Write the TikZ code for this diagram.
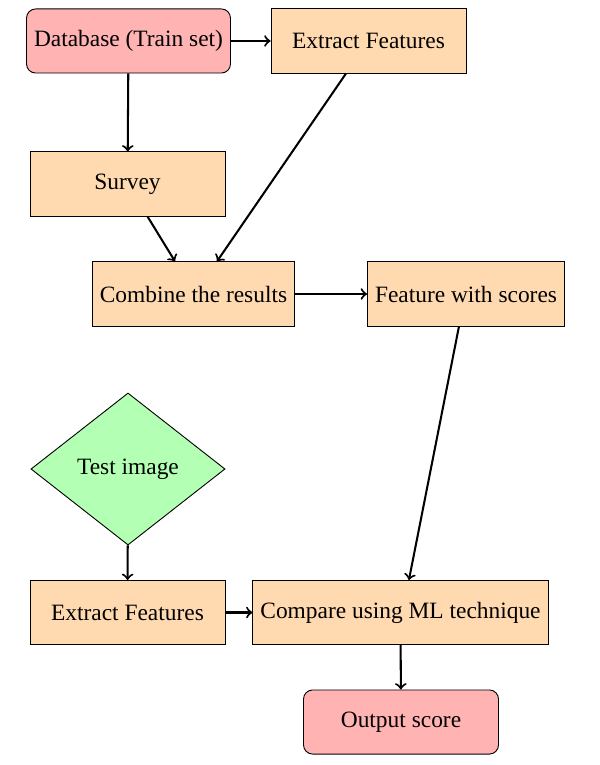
\documentclass[tikz,border=0pt]{standalone}
\usepackage{fontspec}
\setmainfont{Liberation Serif}
\usetikzlibrary{shapes.geometric}
\definecolor{boxred}{RGB}{255,179,179}
\definecolor{boxorange}{RGB}{255,218,176}
\definecolor{boxgreen}{RGB}{179,255,179}
\begin{document}
\begin{tikzpicture}[x=0.44pt,y=-0.44pt,font=\fontsize{10.3}{12}\selectfont,
  procbox/.style={rectangle,draw,fill=boxorange,minimum width=85.8pt,minimum height=28.2pt,inner sep=3.3pt},
  termbox/.style={rectangle,rounded corners=4pt,draw,fill=boxred,minimum width=85.8pt,minimum height=28.2pt,inner sep=3.3pt},
  decbox/.style={diamond,draw,fill=boxgreen,minimum width=85.4pt,minimum height=66.9pt,inner sep=0pt},
  arr/.style={->,line width=0.9pt}]
\useasboundingbox (0,0) rectangle (599,765);
\node[termbox] (db) at (128.5,41) {Database (Train set)};
\node[procbox] (ext1) at (368.5,41) {Extract Features};
\node[procbox] (survey) at (127.5,184) {Survey};
\node[procbox] (comb) at (193.5,294) {Combine the results};
\node[procbox] (fws) at (466,294) {Feature with scores};
\node[decbox] (test) at (128,469) {Test image};
\node[procbox] (ext2) at (127.5,612.5) {Extract Features};
\node[procbox] (cmp) at (400.5,612.5) {Compare using ML technique};
\node[termbox] (out) at (401,722) {Output score};
\draw[arr] (db) -- (ext1);
\draw[arr] (db) -- (survey);
\draw[arr] ([xshift=8.8pt]survey.south) -- ([xshift=-8.1pt]comb.north);
\draw[arr] ([xshift=-9.9pt]ext1.south) -- ([xshift=10.3pt]comb.north);
\draw[arr] (comb) -- (fws);
\draw[arr] ([xshift=-3.1pt]fws.south) -- ([xshift=3.7pt]cmp.north);
\draw[arr] (test) -- (ext2);
\draw[arr] (ext2) -- (cmp);
\draw[arr] (cmp) -- (out);
\end{tikzpicture}
\end{document}
